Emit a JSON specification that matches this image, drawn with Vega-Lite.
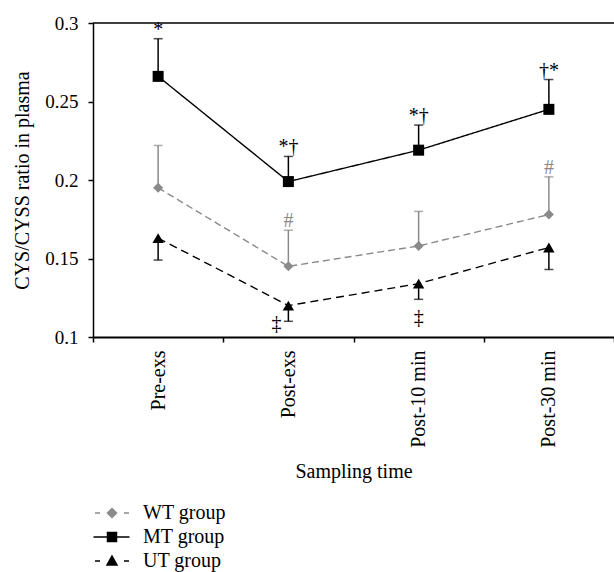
{
  "$schema": "https://vega.github.io/schema/vega-lite/v6.json",
  "width": 521,
  "height": 314,
  "autosize": "none",
  "padding": {"left": 93, "top": 23, "right": 0, "bottom": 235},
  "config": {
    "font": "Liberation Serif",
    "view": {"stroke": null},
    "axis": {"grid": false, "domainColor": "black", "tickColor": "black", "labelColor": "black", "titleColor": "black", "labelFont": "Liberation Serif", "titleFont": "Liberation Serif", "titleFontWeight": "normal"},
    "legend": {"labelFont": "Liberation Serif", "labelColor": "black"}
  },
  "datasets": {
    "pts": [
      {"time": "Pre-exs", "group": "WT group", "value": 0.195, "err": 0.222, "note": ""},
      {"time": "Pre-exs", "group": "MT group", "value": 0.266, "err": 0.29, "note": "*"},
      {"time": "Pre-exs", "group": "UT group", "value": 0.163, "err": 0.149, "note": ""},
      {"time": "Post-exs", "group": "WT group", "value": 0.145, "err": 0.168, "note": "#"},
      {"time": "Post-exs", "group": "MT group", "value": 0.199, "err": 0.215, "note": "*†"},
      {"time": "Post-exs", "group": "UT group", "value": 0.12, "err": 0.11, "note": "‡"},
      {"time": "Post-10 min", "group": "WT group", "value": 0.158, "err": 0.18, "note": ""},
      {"time": "Post-10 min", "group": "MT group", "value": 0.219, "err": 0.235, "note": "*†"},
      {"time": "Post-10 min", "group": "UT group", "value": 0.134, "err": 0.124, "note": "‡"},
      {"time": "Post-30 min", "group": "WT group", "value": 0.178, "err": 0.202, "note": "#"},
      {"time": "Post-30 min", "group": "MT group", "value": 0.245, "err": 0.264, "note": "†*"},
      {"time": "Post-30 min", "group": "UT group", "value": 0.157, "err": 0.143, "note": ""}
    ]
  },
  "data": {"name": "pts"},
  "layer": [
    {
      "data": {"values": [{"ref": 0.3}]},
      "mark": {"type": "rule", "color": "black", "strokeWidth": 1.5},
      "encoding": {
        "y": {"field": "ref", "type": "quantitative", "scale": {"domain": [0.1, 0.3], "nice": false, "zero": false}}
      }
    },
    {
      "mark": {"type": "line", "strokeWidth": 1.4},
      "encoding": {
        "x": {
          "field": "time", "type": "nominal",
          "sort": ["Pre-exs", "Post-exs", "Post-10 min", "Post-30 min"],
          "scale": {"type": "band", "paddingInner": 0, "paddingOuter": 0},
          "axis": {"title": "Sampling time", "labelAngle": -90, "tickBand": "extent", "tickSize": 5, "tickWidth": 1.5, "domainWidth": 2, "labelPadding": 8, "titlePadding": 14, "labelFontSize": 20, "titleFontSize": 20}
        },
        "y": {
          "field": "value", "type": "quantitative",
          "scale": {"domain": [0.1, 0.3], "nice": false, "zero": false},
          "axis": {"title": "CYS/CYSS ratio in plasma", "values": [0.1, 0.15, 0.2, 0.25, 0.3], "format": "~g", "tickSize": 5, "tickWidth": 1.5, "domainWidth": 1.5, "labelPadding": 10, "titlePadding": 12, "labelFontSize": 19, "titleFontSize": 20}
        },
        "color": {"field": "group", "type": "nominal", "scale": {"domain": ["MT group", "WT group", "UT group"], "range": ["black", "#8a8a8a", "black"]}, "legend": null},
        "strokeDash": {"field": "group", "type": "nominal", "scale": {"domain": ["MT group", "UT group", "WT group"], "range": [[1, 0], [8, 5], [7, 4]]}, "legend": null}
      }
    },
    {
      "mark": {"type": "rule", "strokeWidth": 1.5},
      "encoding": {
        "x": {"field": "time", "type": "nominal", "sort": ["Pre-exs", "Post-exs", "Post-10 min", "Post-30 min"]},
        "y": {"field": "value", "type": "quantitative"},
        "y2": {"field": "err"},
        "color": {"field": "group", "type": "nominal", "legend": null}
      }
    },
    {
      "mark": {"type": "tick", "size": 9, "thickness": 1.5},
      "encoding": {
        "x": {"field": "time", "type": "nominal", "sort": ["Pre-exs", "Post-exs", "Post-10 min", "Post-30 min"]},
        "y": {"field": "err", "type": "quantitative"},
        "color": {"field": "group", "type": "nominal", "legend": null}
      }
    },
    {
      "transform": [{"filter": "datum.group === 'WT group'"}],
      "mark": {"type": "point", "filled": true, "opacity": 1, "shape": "diamond", "size": 100, "color": "#8a8a8a"},
      "encoding": {
        "x": {"field": "time", "type": "nominal", "sort": ["Pre-exs", "Post-exs", "Post-10 min", "Post-30 min"]},
        "y": {"field": "value", "type": "quantitative"}
      }
    },
    {
      "transform": [{"filter": "datum.group === 'MT group'"}],
      "mark": {"type": "point", "filled": true, "opacity": 1, "shape": "square", "size": 121, "color": "black"},
      "encoding": {
        "x": {"field": "time", "type": "nominal", "sort": ["Pre-exs", "Post-exs", "Post-10 min", "Post-30 min"]},
        "y": {"field": "value", "type": "quantitative"}
      }
    },
    {
      "transform": [{"filter": "datum.group === 'UT group'"}],
      "mark": {"type": "point", "filled": true, "opacity": 1, "shape": "triangle-up", "size": 130, "color": "black"},
      "encoding": {
        "x": {"field": "time", "type": "nominal", "sort": ["Pre-exs", "Post-exs", "Post-10 min", "Post-30 min"]},
        "y": {"field": "value", "type": "quantitative"}
      }
    },
    {
      "transform": [{"filter": "false"}],
      "mark": {"type": "point", "filled": true, "opacity": 1, "strokeWidth": 1.5},
      "encoding": {
        "x": {"field": "time", "type": "nominal", "sort": ["Pre-exs", "Post-exs", "Post-10 min", "Post-30 min"]},
        "y": {"field": "value", "type": "quantitative"},
        "fill": {"field": "group", "type": "nominal", "scale": {"domain": ["WT group", "MT group", "UT group"], "range": ["#8a8a8a", "black", "black"]}, "legend": {"title": null}},
        "stroke": {"field": "group", "type": "nominal", "scale": {"domain": ["WT group", "MT group", "UT group"], "range": ["#8a8a8a", "black", "black"]}, "legend": {"title": null}},
        "shape": {
          "field": "group", "type": "nominal",
          "scale": {"domain": ["WT group", "MT group", "UT group"], "range": [
            "M-1.7,0H-1.2M1.2,0H1.7M0,-0.45L0.45,0L0,0.45L-0.45,0Z",
            "M-1.85,0H1.75M-0.45,-0.45H0.45V0.45H-0.45Z",
            "M-1.7,0H-1.2M1.2,0H1.7M0,-0.5L0.5,0.4L-0.5,0.4Z"
          ]},
          "legend": {
            "orient": "none", "legendX": 8, "legendY": 479, "title": null,
            "labelFontSize": 20, "symbolSize": 400, "labelOffset": 20, "rowPadding": 3, "padding": 0,
            "symbolStrokeWidth": 1.5
          }
        }
      }
    },
    {
      "transform": [{"filter": "datum.group !== 'UT group' && datum.note !== ''"}],
      "mark": {"type": "text", "baseline": "alphabetic", "dy": -3, "fontSize": 20},
      "encoding": {
        "x": {"field": "time", "type": "nominal", "sort": ["Pre-exs", "Post-exs", "Post-10 min", "Post-30 min"]},
        "y": {"field": "err", "type": "quantitative"},
        "text": {"field": "note"},
        "color": {"field": "group", "type": "nominal", "legend": null}
      }
    },
    {
      "transform": [{"filter": "datum.group === 'UT group' && datum.time === 'Post-10 min'"}],
      "mark": {"type": "text", "baseline": "top", "dy": 9, "fontSize": 20},
      "encoding": {
        "x": {"field": "time", "type": "nominal", "sort": ["Pre-exs", "Post-exs", "Post-10 min", "Post-30 min"]},
        "y": {"field": "err", "type": "quantitative"},
        "text": {"field": "note"},
        "color": {"field": "group", "type": "nominal", "legend": null}
      }
    },
    {
      "transform": [{"filter": "datum.group === 'UT group' && datum.time === 'Post-exs'"}],
      "mark": {"type": "text", "baseline": "middle", "dy": 3, "dx": -12, "fontSize": 20},
      "encoding": {
        "x": {"field": "time", "type": "nominal", "sort": ["Pre-exs", "Post-exs", "Post-10 min", "Post-30 min"]},
        "y": {"field": "err", "type": "quantitative"},
        "text": {"field": "note"},
        "color": {"field": "group", "type": "nominal", "legend": null}
      }
    }
  ]
}
